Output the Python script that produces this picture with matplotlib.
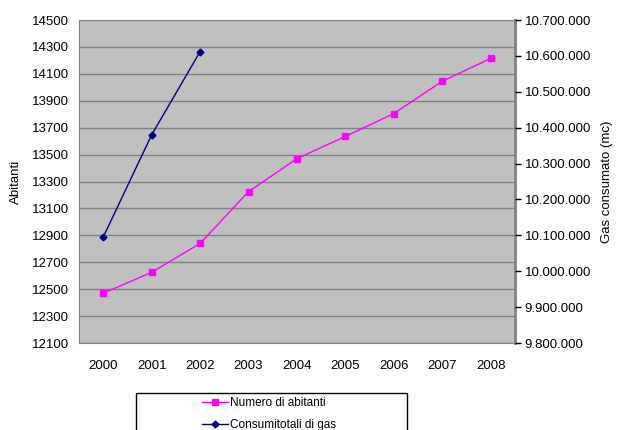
import matplotlib.pyplot as plt
from matplotlib.patches import Rectangle
from matplotlib.ticker import FuncFormatter

plt.rcParams['font.family'] = ['Liberation Sans', 'DejaVu Sans']

anni = ['2000', '2001', '2002', '2003', '2004', '2005', '2006', '2007', '2008']
abitanti = [12470, 12625, 12840, 13225, 13470, 13635, 13805, 14045, 14215]
anni_gas = ['2000', '2001', '2002']
consumi_gas = [10095000, 10380000, 10612000]

sinistra_ticks = list(range(12100, 14501, 200))
destra_ticks = list(range(9800000, 10700001, 100000))

FS = 9.5

fig = plt.figure(figsize=(6.18, 4.30), dpi=100)
fig.patch.set_facecolor('white')
ax = fig.add_axes([79 / 618, 87 / 430, 436 / 618, 323 / 430])
ax.set_facecolor('#c0c0c0')

x = list(range(len(anni)))
ax.set_xlim(-0.5, len(anni) - 0.5)
ax.set_ylim(12100, 14500)
ax.set_yticks(sinistra_ticks)
ax.set_xticks(x)
ax.set_xticklabels(anni)
ax.grid(axis='y', color='#808080', linewidth=1)
ax.set_axisbelow(True)
ax.tick_params(axis='y', length=0, pad=7, labelsize=FS)
ax.tick_params(axis='x', length=0, pad=12, labelsize=FS)
for s in ax.spines.values():
    s.set_color('#808080')
ax.spines['right'].set_linewidth(2)
ax.set_ylabel('Abitanti', fontsize=FS, labelpad=7)

l1, = ax.plot(x, abitanti, color='#ff00ff', marker='s', markersize=5,
              linewidth=1, label='Numero di abitanti', zorder=3)

ax2 = ax.twinx()
ax2.set_ylim(9800000, 10700000)
ax2.set_yticks(destra_ticks)
ax2.yaxis.set_major_formatter(FuncFormatter(lambda v, p: f'{int(v):,}'.replace(',', '.')))
ax2.tick_params(axis='y', length=4, width=1, color='#000000', pad=3, labelsize=FS)
for s in ax2.spines.values():
    s.set_visible(False)
ax2.set_ylabel('Gas consumato (mc)', fontsize=FS, labelpad=7)

xg = [anni.index(a) for a in anni_gas]
l2, = ax2.plot(xg, consumi_gas, color='#000080', marker='D', markersize=3.5,
               linewidth=1, label='Consumitotali di gas', zorder=3)

# riquadro della legenda sotto il grafico
fig.add_artist(Rectangle((136 / 618, -0.05), 271 / 618, 0.05 + (430 - 392.7) / 430,
                         transform=fig.transFigure, facecolor='white',
                         edgecolor='black', linewidth=1))
fig.legend(handles=[l1, l2], loc='upper left', frameon=False,
           bbox_to_anchor=(198 / 618, 1 - 393 / 430), fontsize=8.5,
           handlelength=2.2, handletextpad=0.2, labelspacing=0.85,
           borderaxespad=0, borderpad=0.35)

fig.savefig('out.png', dpi=100)
